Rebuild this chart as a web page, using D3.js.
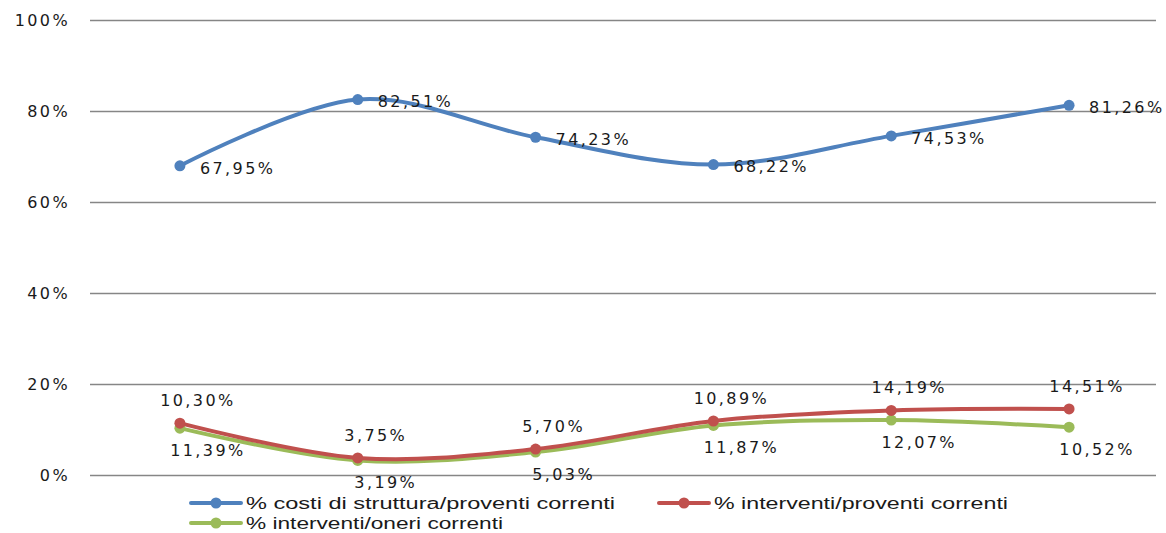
<!DOCTYPE html>
<html><head><meta charset="utf-8">
<script src="https://cdn.jsdelivr.net/npm/d3@7"></script>
<style>
html,body{margin:0;padding:0;background:#fff;}
svg{display:block;}
</style></head>
<body>
<svg id="chart" width="1166" height="533"></svg>
<script>
// ---- data ----
const categories = ["1", "2", "3", "4", "5", "6"];
const blueValues = [67.95, 82.51, 74.23, 68.22, 74.53, 81.26];
const redValues = [11.39, 3.75, 5.70, 11.87, 14.19, 14.51];
const greenValues = [10.30, 3.19, 5.03, 10.89, 12.07, 10.52];
const blueLabels = ["67,95%", "82,51%", "74,23%", "68,22%", "74,53%", "81,26%"];
const redLabels = ["10,30%", "3,75%", "5,70%", "10,89%", "14,19%", "14,51%"];
const greenLabels = ["11,39%", "3,19%", "5,03%", "11,87%", "12,07%", "10,52%"];
const yTicks = [0, 20, 40, 60, 80, 100];
const yTickLabels = ["0%", "20%", "40%", "60%", "80%", "100%"];
const seriesNames = ["% costi di struttura/proventi correnti", "% interventi/proventi correnti", "% interventi/oneri correnti"];
const seriesColors = ["#4F81BD", "#C0504D", "#9BBB59"];

const svg = d3.select("#chart");
const x = d3.scalePoint().domain(categories).range([91, 1158]).padding(0.5);
const y = d3.scaleLinear().domain([0, 100]).range([475, 20]);

const labelFont = "DejaVu Sans, Verdana, sans-serif";

// gridlines
svg.append("g").selectAll("line").data(yTicks).join("line")
  .attr("x1", 90).attr("x2", 1156)
  .attr("y1", d => y(d) + 0.5).attr("y2", d => y(d) + 0.5)
  .attr("stroke", "#868686").attr("stroke-width", 1.3);

// y labels
svg.append("g").selectAll("text").data(yTicks).join("text")
  .attr("x", 70).attr("y", d => y(d)).attr("dy", "0.36em")
  .attr("text-anchor", "end")
  .attr("font-family", labelFont).attr("font-size", 16)
  .attr("letter-spacing", 2.4)
  .attr("fill", "#1a1a1a")
  .text((d, i) => yTickLabels[i]);

const line = d3.line().x((d, i) => x(categories[i])).y(d => y(d)).curve(d3.curveCatmullRom.alpha(0));

function drawSeries(vals, color) {
  svg.append("path").datum(vals).attr("d", line)
    .attr("fill", "none").attr("stroke", color).attr("stroke-width", 4).attr("stroke-linecap", "round");
  svg.append("g").selectAll("circle").data(vals).join("circle")
    .attr("cx", (d, i) => x(categories[i])).attr("cy", d => y(d)).attr("r", 5.5)
    .attr("fill", color);
}
drawSeries(greenValues, seriesColors[2]);
drawSeries(redValues, seriesColors[1]);
drawSeries(blueValues, seriesColors[0]);

function drawLabels(vals, labels, dx, dy, anchor) {
  svg.append("g").selectAll("text").data(vals).join("text")
    .attr("x", (d, i) => x(categories[i]) + dx).attr("y", d => y(d) + dy)
    .attr("dy", "0.36em").attr("text-anchor", anchor)
    .attr("font-family", labelFont).attr("font-size", 16)
    .attr("letter-spacing", 2.4).attr("fill", "#1a1a1a")
    .text((d, i) => labels[i]);
}
drawLabels(blueValues, blueLabels, 20, 2, "start");
drawLabels(redValues, redLabels, 18, -23, "middle");
drawLabels(greenValues, greenLabels, 28, 22, "middle");

// legend
const legendItems = [
  {x: 190, y: 503, i: 0, w: 369},
  {x: 658, y: 503, i: 1, w: 294},
  {x: 190, y: 523, i: 2, w: 257}
];
const lg = svg.append("g").selectAll("g").data(legendItems).join("g")
  .attr("transform", d => `translate(${d.x},${d.y})`);
lg.append("line").attr("x1", 1).attr("x2", 51).attr("y1", 0).attr("y2", 0)
  .attr("stroke", d => seriesColors[d.i]).attr("stroke-width", 4).attr("stroke-linecap", "round");
lg.append("circle").attr("cx", 26).attr("cy", 0).attr("r", 5.5).attr("fill", d => seriesColors[d.i]);
lg.append("text").attr("x", 56).attr("y", 0).attr("dy", "0.35em")
  .attr("font-family", "Liberation Sans, Arial, sans-serif").attr("font-size", 16)
  .attr("textLength", d => d.w).attr("lengthAdjust", "spacingAndGlyphs")
  .attr("fill", "#1a1a1a")
  .text(d => seriesNames[d.i]);
</script>
</body></html>
